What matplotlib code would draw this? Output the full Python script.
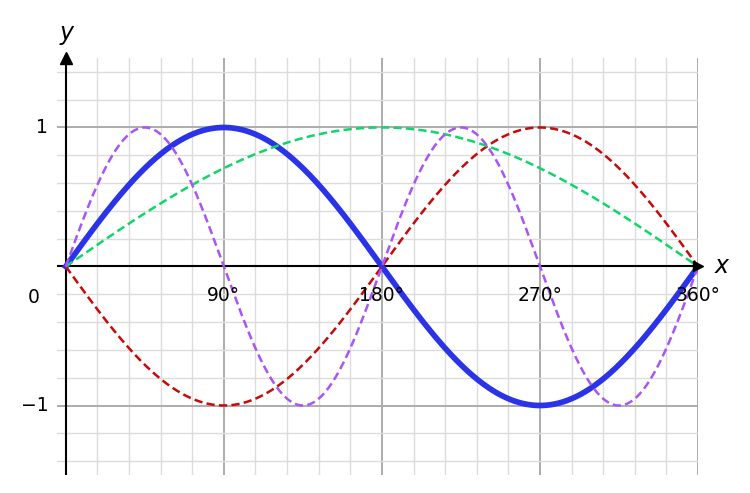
import numpy as np
import matplotlib.pyplot as plt

# curves drawn: y = amplitude * sin(frequency * x)
curve_names = ["sin x", "-sin x", "sin x/2", "sin 2x"]
frequencies = [1, 1, 0.5, 2]
amplitudes = [1, -1, 1, 1]

x_tick_values = [90, 180, 270, 360]
x_tick_labels = ["90°", "180°", "270°", "360°"]
y_tick_values = [-1, 1]
y_tick_labels = ["\u22121", "1"]

colors = ["#2b33e8", "#c40a0a", "#0fd56a", "#a855f7"]
styles = ["-", "--", "--", "--"]
widths = [4.1, 1.8, 1.8, 1.8]

angles = np.linspace(0, 360, 721)

fig = plt.figure(figsize=(7.5, 4.93), dpi=100)
ax = fig.add_axes([0.076, 0.0365, 0.8547, 0.8459])
ax.set_xlim(-5, 360)
ax.set_ylim(-1.5, 1.5)

# grid
ax.set_xticks([0, 90, 180, 270, 360])
ax.set_xticks(np.arange(0, 361, 18), minor=True)
ax.set_yticks([-1, 0, 1])
ax.set_yticks(np.arange(-1.4, 1.5, 0.2), minor=True)
ax.grid(which="minor", color="#dcdcdc", lw=1.0)
ax.grid(which="major", color="#acacac", lw=1.4)
ax.tick_params(which="both", length=0, labelbottom=False, labelleft=False)
for s in ax.spines.values():
    s.set_visible(False)
ax.set_axisbelow(True)

# axes lines with arrows
ax.axhline(0, color="black", lw=1.5, zorder=3)
ax.axvline(0, color="black", lw=1.5, zorder=3)
ax.plot(0, 1.5, marker="^", color="black", ms=9, clip_on=False, zorder=6)
ax.plot(360, 0, marker=">", color="black", ms=7, clip_on=False, zorder=6)

for name, f, a, c, ls, w in zip(curve_names, frequencies, amplitudes, colors, styles, widths):
    y = a * np.sin(np.radians(f * angles))
    ax.plot(angles, y, color=c, ls=ls, lw=w, label=name, zorder=4 if ls == "-" else 5,
            dashes=(3.3, 1.7) if ls == "--" else (None, None))

for xv, lab in zip(x_tick_values, x_tick_labels):
    ax.text(xv, -0.21, lab, ha="center", va="center", fontsize=13.5, zorder=7)
ax.text(-18, -0.22, "0", ha="center", va="center", fontsize=13.5, clip_on=False)
for yv, lab in zip(y_tick_values, y_tick_labels):
    ax.text(-10, yv, lab, ha="right", va="center", fontsize=13.5, clip_on=False)

ax.text(0.5, 1.68, "y", ha="center", va="center", fontsize=17, style="italic", clip_on=False)
ax.text(373.5, 0.0, "x", ha="center", va="center", fontsize=17, style="italic", clip_on=False)

fig.savefig("out.png", dpi=100)
